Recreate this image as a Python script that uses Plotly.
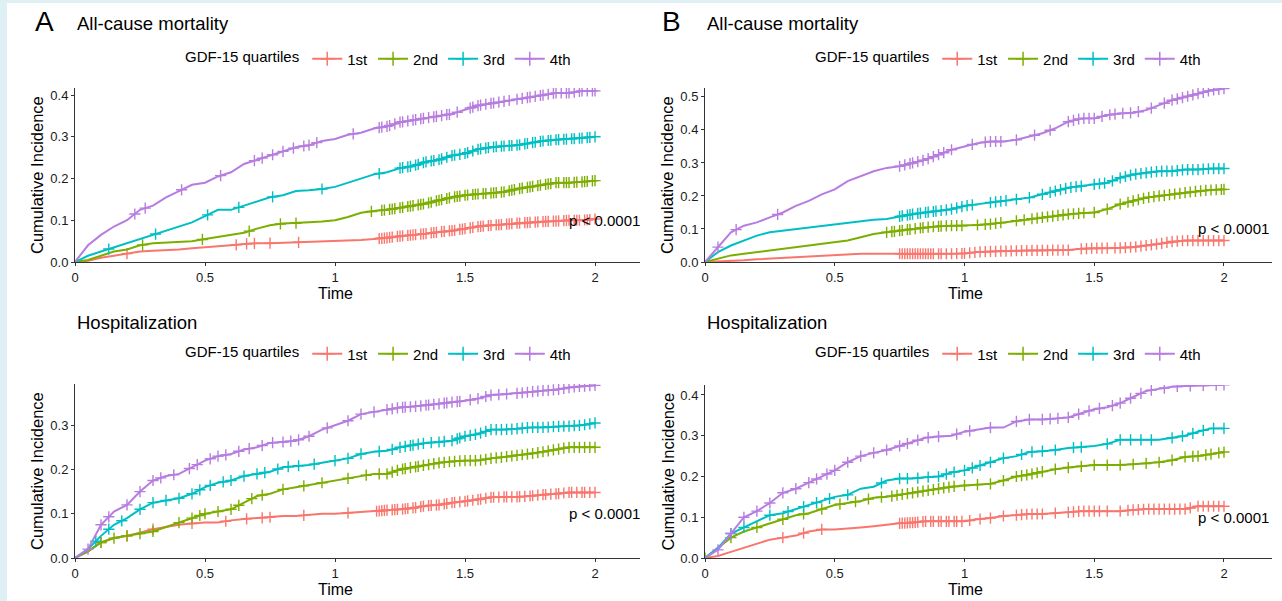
import numpy as np
import plotly.graph_objects as go

W, H = 1282, 601

# ---------------- data ----------------
time = [0, 0.05, 0.1, 0.15, 0.2, 0.25, 0.3, 0.35, 0.4, 0.45,
        0.5, 0.55, 0.6, 0.65, 0.7, 0.75, 0.8, 0.85, 0.9, 0.95,
        1.0, 1.05, 1.1, 1.15, 1.2, 1.25, 1.3, 1.35, 1.4, 1.45,
        1.5, 1.55, 1.6, 1.65, 1.7, 1.75, 1.8, 1.85, 1.9, 1.95, 2.0]

quartiles = ["1st", "2nd", "3rd", "4th"]
colors = ["#F8766D", "#7CAE00", "#00BFC4", "#B77CE0"]

# Panel A - All-cause mortality
a_mort_1st = [0, .003, .01, .015, .02, .025, .027, .028, .03, .033, .035, .038, .04, .043, .045, .045, .046, .047, .048, .05,
              .05, .052, .053, .055, .058, .062, .065, .068, .072, .075, .08, .085, .088, .09, .093, .095, .097, .098, .10, .10, .103]
a_mort_2nd = [0, .005, .015, .025, .03, .04, .045, .047, .048, .05, .055, .06, .065, .07, .08, .088, .092, .093, .095, .097,
              .10, .108, .118, .122, .125, .13, .135, .14, .148, .155, .16, .163, .165, .168, .175, .18, .185, .19, .19, .192, .195]
a_mort_3rd = [0, .015, .025, .035, .045, .055, .065, .075, .085, .095, .11, .125, .125, .135, .145, .155, .16, .17, .172, .175,
              .18, .19, .20, .21, .215, .225, .23, .24, .245, .255, .26, .27, .275, .278, .28, .285, .29, .293, .295, .297, .30]
a_mort_4th = [0, .04, .065, .085, .10, .125, .135, .155, .17, .185, .19, .205, .215, .235, .245, .255, .265, .275, .28, .29,
              .295, .305, .31, .32, .325, .335, .34, .345, .35, .355, .365, .375, .38, .385, .39, .395, .40, .405, .405, .41, .41]

a_mort_cens_1st = [0.2, 0.62, 0.66, 0.69, 0.75, 0.86, 1.17, 1.18, 1.19, 1.2, 1.21, 1.22, 1.24, 1.25, 1.26, 1.28, 1.29, 1.3,
                   1.31, 1.33, 1.34, 1.35, 1.37, 1.38, 1.39, 1.41, 1.42, 1.44, 1.45, 1.46, 1.48, 1.49, 1.5, 1.52, 1.53, 1.55,
                   1.56, 1.57, 1.59, 1.6, 1.62, 1.63, 1.64, 1.66, 1.67, 1.68, 1.7, 1.71, 1.73, 1.74, 1.75, 1.77, 1.78, 1.8,
                   1.81, 1.82, 1.84, 1.85, 1.86, 1.88, 1.89, 1.9, 1.92, 1.93, 1.94, 1.96, 1.97, 1.98, 2.0]
a_mort_cens_2nd = [0.26, 0.49, 0.67, 0.79, 0.85, 1.14, 1.18, 1.19, 1.21, 1.22, 1.23, 1.25, 1.26, 1.28, 1.29, 1.3, 1.32, 1.33,
                   1.34, 1.36, 1.37, 1.39, 1.4, 1.41, 1.43, 1.44, 1.46, 1.47, 1.48, 1.5, 1.51, 1.53, 1.54, 1.55, 1.57, 1.58,
                   1.6, 1.61, 1.62, 1.64, 1.65, 1.67, 1.68, 1.69, 1.71, 1.72, 1.74, 1.75, 1.76, 1.78, 1.79, 1.81, 1.82, 1.83,
                   1.85, 1.86, 1.88, 1.89, 1.9, 1.92, 1.93, 1.95, 1.96, 1.97, 1.99, 2.0]
a_mort_cens_3rd = [0.13, 0.31, 0.51, 0.63, 0.76, 0.95, 1.17, 1.25, 1.26, 1.28, 1.29, 1.31, 1.32, 1.34, 1.35, 1.37, 1.38, 1.4,
                   1.41, 1.43, 1.45, 1.46, 1.48, 1.5, 1.51, 1.53, 1.55, 1.56, 1.58, 1.59, 1.61, 1.62, 1.64, 1.65, 1.67, 1.68,
                   1.7, 1.71, 1.73, 1.74, 1.76, 1.77, 1.79, 1.8, 1.82, 1.83, 1.85, 1.86, 1.88, 1.89, 1.91, 1.92, 1.94, 1.95,
                   1.97, 1.98, 2.0]
a_mort_cens_4th = [0.23, 0.27, 0.41, 0.56, 0.69, 0.72, 0.76, 0.8, 0.84, 0.88, 0.9, 0.93, 1.07, 1.17, 1.18, 1.2, 1.21, 1.23,
                   1.25, 1.26, 1.28, 1.3, 1.31, 1.33, 1.34, 1.36, 1.38, 1.39, 1.41, 1.43, 1.44, 1.47, 1.52, 1.53, 1.55, 1.56,
                   1.58, 1.6, 1.61, 1.63, 1.65, 1.67, 1.7, 1.72, 1.74, 1.75, 1.77, 1.79, 1.8, 1.82, 1.84, 1.85, 1.87, 1.89,
                   1.9, 1.92, 1.94, 1.95, 1.97, 1.99, 2.0]

# Panel A - Hospitalization
a_hosp_1st = [0, .015, .035, .045, .05, .058, .065, .07, .075, .078, .08, .08, .085, .088, .09, .092, .095, .095, .097, .10,
              .10, .102, .103, .105, .108, .11, .113, .118, .12, .125, .128, .132, .137, .138, .138, .14, .143, .145, .148, .148, .148]
a_hosp_2nd = [0, .015, .035, .045, .05, .055, .06, .07, .08, .09, .10, .105, .11, .125, .14, .145, .155, .16, .165, .17,
              .175, .18, .185, .19, .19, .20, .205, .21, .215, .218, .22, .22, .225, .228, .232, .235, .24, .245, .25, .25, .25]
a_hosp_3rd = [0, .02, .05, .075, .09, .11, .125, .13, .135, .145, .16, .17, .175, .185, .19, .195, .205, .208, .21, .215,
              .22, .225, .235, .24, .242, .25, .255, .26, .262, .265, .275, .28, .29, .29, .292, .295, .295, .297, .298, .30, .305]
a_hosp_4th = [0, .02, .075, .105, .12, .15, .175, .185, .19, .205, .22, .23, .235, .245, .25, .26, .262, .265, .275, .29,
              .30, .31, .325, .33, .335, .34, .342, .345, .348, .352, .355, .36, .368, .37, .372, .375, .378, .38, .385, .388, .39]

a_hosp_cens_1st = [0.1, 0.2, 0.3, 0.45, 0.58, 0.66, 0.72, 0.75, 0.88, 1.05, 1.16, 1.17, 1.18, 1.19, 1.2, 1.22, 1.23, 1.24,
                   1.26, 1.27, 1.28, 1.3, 1.31, 1.33, 1.34, 1.36, 1.37, 1.39, 1.4, 1.42, 1.43, 1.45, 1.46, 1.48, 1.5, 1.51,
                   1.53, 1.55, 1.56, 1.58, 1.6, 1.61, 1.63, 1.65, 1.66, 1.68, 1.7, 1.71, 1.73, 1.75, 1.76, 1.78, 1.8, 1.81,
                   1.83, 1.85, 1.86, 1.88, 1.9, 1.91, 1.93, 1.95, 1.96, 1.98, 2.0]
a_hosp_cens_2nd = [0.1, 0.15, 0.2, 0.25, 0.3, 0.4, 0.45, 0.48, 0.5, 0.55, 0.6, 0.63, 0.68, 0.72, 0.8, 0.88, 0.95, 1.05, 1.12,
                   1.17, 1.2, 1.22, 1.24, 1.26, 1.27, 1.29, 1.31, 1.32, 1.34, 1.36, 1.38, 1.4, 1.42, 1.44, 1.46, 1.48, 1.5,
                   1.52, 1.54, 1.56, 1.58, 1.6, 1.62, 1.64, 1.66, 1.68, 1.7, 1.72, 1.74, 1.76, 1.78, 1.8, 1.82, 1.84, 1.86,
                   1.88, 1.9, 1.92, 1.94, 1.96, 1.98, 2.0]
a_hosp_cens_3rd = [0.08, 0.13, 0.18, 0.25, 0.3, 0.35, 0.4, 0.45, 0.48, 0.52, 0.57, 0.6, 0.65, 0.7, 0.73, 0.78, 0.82, 0.86,
                   0.92, 1.0, 1.05, 1.1, 1.17, 1.22, 1.25, 1.27, 1.29, 1.3, 1.32, 1.34, 1.37, 1.4, 1.42, 1.45, 1.47, 1.48,
                   1.5, 1.52, 1.54, 1.56, 1.58, 1.6, 1.62, 1.64, 1.66, 1.68, 1.7, 1.72, 1.74, 1.76, 1.78, 1.8, 1.82, 1.84,
                   1.86, 1.88, 1.9, 1.92, 1.94, 1.96, 1.98, 2.0]
a_hosp_cens_4th = [0.05, 0.1, 0.13, 0.2, 0.25, 0.3, 0.33, 0.38, 0.44, 0.47, 0.52, 0.55, 0.58, 0.63, 0.67, 0.72, 0.76, 0.8,
                   0.83, 0.86, 0.9, 0.97, 1.05, 1.1, 1.15, 1.2, 1.22, 1.24, 1.26, 1.27, 1.29, 1.31, 1.33, 1.35, 1.36, 1.38,
                   1.4, 1.42, 1.43, 1.45, 1.47, 1.48, 1.52, 1.55, 1.58, 1.6, 1.63, 1.66, 1.7, 1.72, 1.74, 1.76, 1.78, 1.8,
                   1.82, 1.84, 1.86, 1.88, 1.9, 1.92, 1.94, 1.96, 1.98, 2.0]

# Panel B - All-cause mortality
b_mort_1st = [0, .001, .003, .005, .008, .01, .013, .015, .018, .02, .022, .024, .025, .025, .025, .025, .025, .025, .025, .025,
              .026, .03, .032, .033, .034, .035, .035, .036, .036, .04, .042, .042, .043, .045, .05, .055, .062, .065, .065, .065, .065]
b_mort_2nd = [0, .01, .02, .025, .03, .035, .04, .045, .05, .055, .06, .065, .075, .085, .09, .095, .10, .105, .108, .11,
              .11, .112, .115, .12, .125, .13, .135, .14, .145, .148, .15, .16, .175, .185, .195, .20, .205, .21, .215, .218, .22]
b_mort_3rd = [0, .03, .05, .065, .08, .09, .095, .10, .105, .11, .115, .12, .125, .128, .13, .138, .145, .15, .155, .16,
              .17, .175, .18, .185, .19, .195, .205, .215, .225, .23, .235, .24, .255, .265, .27, .275, .275, .28, .28, .283, .283]
b_mort_4th = [0, .045, .09, .11, .12, .135, .15, .17, .185, .205, .22, .245, .26, .275, .285, .29, .30, .31, .325, .34,
              .35, .36, .365, .365, .37, .38, .39, .405, .425, .435, .435, .445, .45, .452, .46, .475, .49, .50, .51, .52, .525]

b_mort_cens_1st = [0.75, 0.76, 0.77, 0.78, 0.79, 0.8, 0.81, 0.82, 0.83, 0.84, 0.85, 0.86, 0.87, 0.88, 0.9, 0.91, 0.93, 0.95,
                   0.97, 0.99, 1.0, 1.02, 1.04, 1.06, 1.08, 1.1, 1.12, 1.14, 1.16, 1.18, 1.2, 1.22, 1.24, 1.26, 1.28, 1.3,
                   1.32, 1.34, 1.36, 1.38, 1.4, 1.45, 1.47, 1.49, 1.51, 1.53, 1.55, 1.58, 1.6, 1.62, 1.64, 1.66, 1.68, 1.7,
                   1.72, 1.74, 1.76, 1.78, 1.8, 1.82, 1.84, 1.86, 1.88, 1.9, 1.92, 1.94, 1.96, 1.98, 2.0]
b_mort_cens_2nd = [0.7, 0.72, 0.73, 0.75, 0.76, 0.78, 0.79, 0.81, 0.83, 0.84, 0.86, 0.88, 0.9, 0.91, 0.93, 0.95, 0.97, 0.99,
                   1.05, 1.08, 1.1, 1.12, 1.14, 1.2, 1.23, 1.26, 1.28, 1.3, 1.32, 1.34, 1.36, 1.38, 1.4, 1.42, 1.44, 1.46,
                   1.5, 1.55, 1.6, 1.63, 1.65, 1.67, 1.69, 1.71, 1.73, 1.75, 1.77, 1.79, 1.81, 1.83, 1.85, 1.87, 1.89, 1.91,
                   1.93, 1.95, 1.97, 1.99, 2.0]
b_mort_cens_3rd = [0.75, 0.76, 0.78, 0.79, 0.8, 0.82, 0.83, 0.85, 0.86, 0.88, 0.89, 0.91, 0.93, 0.95, 0.97, 0.99, 1.01, 1.03,
                   1.1, 1.12, 1.14, 1.16, 1.2, 1.25, 1.3, 1.33, 1.35, 1.37, 1.39, 1.41, 1.43, 1.45, 1.5, 1.52, 1.54, 1.57,
                   1.6, 1.62, 1.64, 1.66, 1.68, 1.7, 1.72, 1.74, 1.76, 1.78, 1.8, 1.82, 1.84, 1.86, 1.88, 1.9, 1.92, 1.94,
                   1.96, 1.98, 2.0]
b_mort_cens_4th = [0.05, 0.12, 0.28, 0.75, 0.77, 0.79, 0.8, 0.82, 0.84, 0.86, 0.88, 0.9, 0.92, 0.95, 1.03, 1.08, 1.1, 1.12,
                   1.14, 1.2, 1.27, 1.33, 1.4, 1.42, 1.44, 1.46, 1.48, 1.5, 1.53, 1.56, 1.58, 1.61, 1.64, 1.67, 1.72, 1.77,
                   1.8, 1.82, 1.84, 1.86, 1.88, 1.9, 1.92, 1.94, 1.96, 1.98, 2.0]

# Panel B - Hospitalization
b_hosp_1st = [0, .005, .015, .025, .035, .045, .05, .055, .065, .07, .07, .072, .075, .078, .082, .085, .087, .09, .09, .09,
              .09, .095, .098, .103, .105, .108, .108, .11, .112, .115, .115, .115, .115, .118, .12, .12, .12, .12, .127, .127, .127]
b_hosp_2nd = [0, .025, .05, .065, .075, .085, .095, .105, .11, .12, .13, .135, .14, .148, .15, .155, .16, .165, .17, .175,
              .178, .18, .182, .19, .20, .205, .212, .218, .222, .225, .228, .228, .228, .23, .232, .235, .24, .248, .25, .255, .26]
b_hosp_3rd = [0, .025, .06, .075, .09, .105, .11, .12, .13, .14, .15, .155, .17, .175, .19, .195, .195, .198, .20, .21,
              .215, .225, .235, .245, .25, .26, .262, .265, .27, .272, .275, .28, .29, .29, .29, .29, .295, .30, .31, .318, .318]
b_hosp_4th = [0, .02, .06, .10, .115, .135, .16, .17, .185, .20, .215, .235, .25, .258, .265, .275, .285, .295, .298, .30,
              .31, .315, .32, .32, .335, .34, .34, .342, .345, .355, .365, .37, .38, .395, .41, .415, .42, .422, .423, .424, .425]

b_hosp_cens_1st = [0.3, 0.38, 0.45, 0.75, 0.76, 0.77, 0.78, 0.79, 0.8, 0.81, 0.82, 0.84, 0.85, 0.87, 0.88, 0.9, 0.91, 0.93,
                   0.94, 0.96, 0.97, 0.99, 1.02, 1.06, 1.1, 1.15, 1.2, 1.22, 1.24, 1.26, 1.28, 1.3, 1.35, 1.4, 1.42, 1.44,
                   1.46, 1.48, 1.5, 1.52, 1.55, 1.6, 1.63, 1.65, 1.67, 1.69, 1.71, 1.73, 1.75, 1.77, 1.79, 1.81, 1.83, 1.85,
                   1.87, 1.9, 1.92, 1.94, 1.96, 1.98, 2.0]
b_hosp_cens_2nd = [0.0, 0.1, 0.2, 0.3, 0.38, 0.45, 0.52, 0.58, 0.63, 0.68, 0.72, 0.74, 0.76, 0.78, 0.8, 0.82, 0.84, 0.86,
                   0.88, 0.9, 0.92, 0.94, 0.96, 1.0, 1.05, 1.1, 1.15, 1.2, 1.22, 1.24, 1.26, 1.28, 1.3, 1.35, 1.4, 1.45,
                   1.5, 1.55, 1.6, 1.65, 1.7, 1.75, 1.8, 1.85, 1.88, 1.9, 1.93, 1.95, 1.98, 2.0]
b_hosp_cens_3rd = [0.1, 0.15, 0.25, 0.32, 0.38, 0.43, 0.48, 0.55, 0.68, 0.75, 0.78, 0.82, 0.86, 0.9, 0.93, 0.96, 1.0, 1.03,
                   1.06, 1.1, 1.15, 1.22, 1.26, 1.3, 1.35, 1.42, 1.45, 1.55, 1.6, 1.64, 1.68, 1.72, 1.8, 1.84, 1.88, 1.92,
                   1.96, 2.0]
b_hosp_cens_4th = [0.05, 0.1, 0.15, 0.2, 0.25, 0.3, 0.35, 0.4, 0.43, 0.47, 0.5, 0.55, 0.6, 0.65, 0.7, 0.75, 0.78, 0.82,
                   0.86, 0.9, 0.97, 1.02, 1.1, 1.2, 1.25, 1.3, 1.33, 1.36, 1.4, 1.44, 1.48, 1.52, 1.57, 1.6, 1.64, 1.68,
                   1.72, 1.77, 1.82, 1.87, 1.92, 1.97, 2.0]

x_tickvals = [0, 0.5, 1, 1.5, 2]
x_ticktext = ["0", "0.5", "1", "1.5", "2"]
p_text = "p < 0.0001"
legend_title = "GDF-15 quartiles"
y_title = "Cumulative Incidence"
x_title = "Time"

panels = [
    dict(curves=[a_mort_1st, a_mort_2nd, a_mort_3rd, a_mort_4th],
         cens=[a_mort_cens_1st, a_mort_cens_2nd, a_mort_cens_3rd, a_mort_cens_4th],
         yticks=[0, 0.1, 0.2, 0.3, 0.4], ymax=0.417, xmax=2.173,
         box=(75, 640, 88, 262), legend_xy=(183, 59)),
    dict(curves=[b_mort_1st, b_mort_2nd, b_mort_3rd, b_mort_4th],
         cens=[b_mort_cens_1st, b_mort_cens_2nd, b_mort_cens_3rd, b_mort_cens_4th],
         yticks=[0, 0.1, 0.2, 0.3, 0.4, 0.5], ymax=0.527, xmax=2.185,
         box=(705, 1272, 88, 262), legend_xy=(813, 59)),
    dict(curves=[a_hosp_1st, a_hosp_2nd, a_hosp_3rd, a_hosp_4th],
         cens=[a_hosp_cens_1st, a_hosp_cens_2nd, a_hosp_cens_3rd, a_hosp_cens_4th],
         yticks=[0, 0.1, 0.2, 0.3], ymax=0.393, xmax=2.173,
         box=(75, 640, 384, 558), legend_xy=(183, 354)),
    dict(curves=[b_hosp_1st, b_hosp_2nd, b_hosp_3rd, b_hosp_4th],
         cens=[b_hosp_cens_1st, b_hosp_cens_2nd, b_hosp_cens_3rd, b_hosp_cens_4th],
         yticks=[0, 0.1, 0.2, 0.3, 0.4], ymax=0.4245, xmax=2.185,
         box=(705, 1272, 385, 558), legend_xy=(813, 354)),
]


def px(x):
    return x / W


def py(y):
    return 1 - y / H


FONT = "Liberation Sans, Arial, sans-serif"
fig = go.Figure()
layout = dict(width=W, height=H, margin=dict(l=0, r=0, t=0, b=0, pad=0, autoexpand=False),
              paper_bgcolor="white", plot_bgcolor="white", template="none",
              font=dict(family=FONT, color="#000000"), showlegend=True)
annotations = []


def add_text(x, y, text, size, xanchor="center", yanchor="middle", angle=0):
    annotations.append(dict(x=px(x), y=py(y), xref="paper", yref="paper", text=text,
                            xanchor=xanchor, yanchor=yanchor, textangle=angle, showarrow=False,
                            font=dict(size=size, family=FONT, color="#000000")))


for i, p in enumerate(panels):
    k = "" if i == 0 else str(i + 1)
    xa, ya = "x" + k, "y" + k
    lg = "legend" + k
    x0, x1, y0, y1 = p["box"]
    for j in range(4):
        c = colors[j]
        yv = p["curves"][j]
        fig.add_trace(go.Scatter(x=time, y=yv, mode="lines", line=dict(color=c, width=2),
                                 xaxis=xa, yaxis=ya, showlegend=False, hoverinfo="skip"))
        ct = p["cens"][j]
        cy = np.interp(ct, time, yv)
        fig.add_trace(go.Scatter(x=ct, y=cy, mode="markers",
                                 marker=dict(symbol="cross-thin", size=8, line=dict(color=c, width=1.4)),
                                 xaxis=xa, yaxis=ya, showlegend=False, hoverinfo="skip"))
        fig.add_trace(go.Scatter(x=[None], y=[None], mode="lines+markers", name=quartiles[j],
                                 line=dict(color=c, width=2),
                                 marker=dict(symbol="cross-thin", size=10, line=dict(color=c, width=1.5)),
                                 xaxis=xa, yaxis=ya, legend=lg))
    axis_common = dict(showline=True, linecolor="#333333", linewidth=1, ticks="outside", ticklen=3,
                       tickcolor="#333333", tickwidth=1, showgrid=False, zeroline=False, fixedrange=True,
                       automargin=False, mirror=False,
                       tickfont=dict(size=13, color="#1a1a1a", family=FONT))
    layout["xaxis" + k] = dict(axis_common, domain=[px(x0), px(x1)], range=[0, p["xmax"]],
                               tickvals=x_tickvals, ticktext=x_ticktext, anchor=ya)
    layout["yaxis" + k] = dict(axis_common, domain=[py(y1), py(y0)], range=[0, p["ymax"]],
                               tickvals=p["yticks"], ticktext=["%.1f" % v for v in p["yticks"]], anchor=xa)
    lx, ly = p["legend_xy"]
    layout[lg] = dict(orientation="h", x=px(lx), xanchor="left", y=py(ly), yanchor="middle",
                      bgcolor="rgba(0,0,0,0)", borderwidth=0,
                      font=dict(size=15, family=FONT, color="#000000"),
                      title=dict(text=legend_title, side="left", font=dict(size=15, family=FONT)),
                      itemwidth=30, tracegroupgap=0)
    annotations.append(dict(x=2.035, y=0.1, xref=xa, yref=ya, text=p_text, showarrow=False,
                            xanchor="center", yanchor="middle",
                            font=dict(size=15, family=FONT, color="#000000")))
    add_text(x0 - 38, (y0 + y1) / 2, y_title, 16.5, angle=-90)
    add_text(x0 + 260, y1 + 31, x_title, 16)

# panel letters and titles
add_text(33, 22, "A", 28, xanchor="left")
add_text(660, 22, "B", 28, xanchor="left")
for tx in (75, 705):
    add_text(tx, 24, "All-cause mortality", 18.5, xanchor="left")
    add_text(tx, 322, "Hospitalization", 18.5, xanchor="left")

layout["annotations"] = annotations
layout["shapes"] = [
    dict(type="rect", xref="paper", yref="paper", x0=0, x1=px(7), y0=0, y1=1, fillcolor="#dff0f5",
         line=dict(width=0), layer="below"),
    dict(type="rect", xref="paper", yref="paper", x0=0, x1=1, y0=py(3), y1=1, fillcolor="#dff0f5",
         line=dict(width=0), layer="below"),
]
fig.update_layout(**layout)
fig.write_html("out.html", config={"displayModeBar": False, "responsive": False},
               post_script="document.body.style.margin='0';document.body.style.overflow='hidden';")
